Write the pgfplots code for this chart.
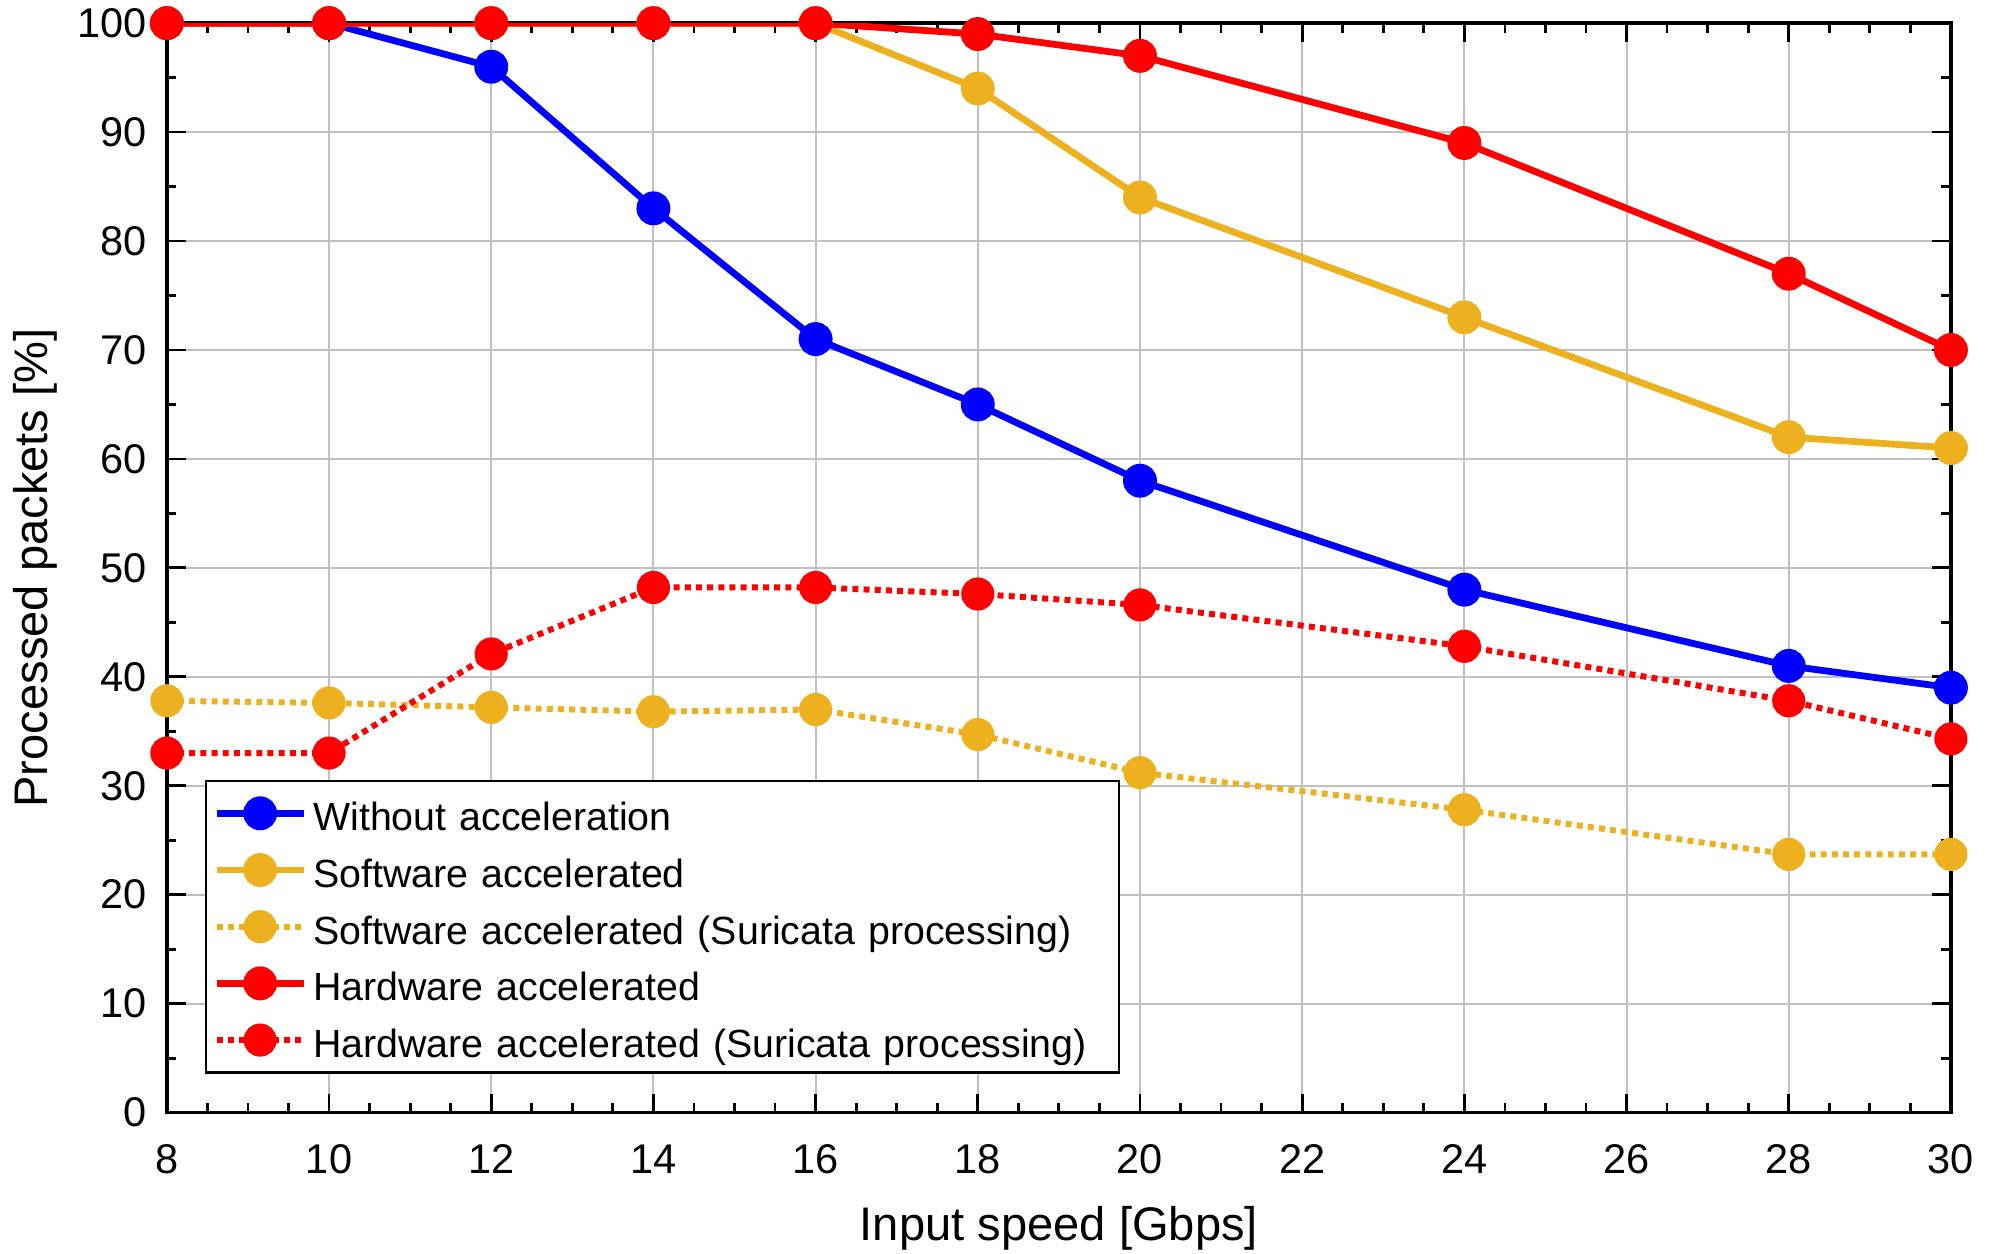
\documentclass[border=0pt]{standalone}
\usepackage{fontspec}
\setmainfont{Liberation Sans}
\usepackage{pgfplots}
\pgfplotsset{compat=1.18}
\definecolor{cblue}{RGB}{0,0,255}
\definecolor{corange}{RGB}{237,177,32}
\definecolor{cred}{RGB}{255,0,0}
\definecolor{cgrid}{RGB}{192,192,192}
\pgfplotsset{
  mylegimg/.style={legend image code/.code={
    \draw[mark repeat=2,mark phase=2] plot coordinates {(0pt,0pt) (10.9pt,0pt) (21.8pt,0pt)};}},
}
\begin{document}
\begin{tikzpicture}
\useasboundingbox (0,0) rectangle (500pt,314pt);
\begin{axis}[
  at={(41.8pt,35.3pt)}, anchor=south west,
  scale only axis, width=446.9pt, height=272.9pt,
  xmin=8, xmax=30, ymin=0, ymax=100,
  xtick={8,10,...,30}, ytick={0,10,...,100},
  minor x tick num=3, minor y tick num=1,
  tick align=inside,
  major tick length=4.7pt, minor tick length=2.4pt,
  tick style={black, line width=0.7pt},
  axis line style={black, line width=0.9pt},
  grid=major, major grid style={cgrid, line width=0.5pt},
  /pgf/number format/assume math mode=true,
  ticklabel style={font=\fontsize{10.4}{12}\selectfont},
  xticklabel style={yshift=-4.5pt},
  yticklabel style={xshift=-1.5pt},
  xlabel={Input speed [Gbps]},
  ylabel={Processed packets [\%]},
  label style={font=\fontsize{11.8}{14}\selectfont},
  xlabel style={at={(axis description cs:0.5,-0.1173)}, anchor=base},
  ylabel style={at={(axis description cs:-0.0667,0.5)}, anchor=base, rotate=0},
  every axis plot/.append style={line width=1.7pt, mark=*, mark size=3.4pt, mark options={solid}},
  legend style={at={(axis description cs:0.0213,0.0358)}, anchor=south west,
    draw=black, line width=0.6pt, font=\fontsize{9.85}{12}\selectfont,
    row sep=0pt, column sep=1.55pt, inner xsep=1.8pt, inner ysep=1pt,
    nodes={inner sep=0pt, text height=11.5pt, text depth=2.7pt, text width=200.1pt},
    cells={anchor=west}},
  legend cell align=left,
  mylegimg,
]
\addplot[cblue] coordinates {(8,100)(10,100)(12,96)(14,83)(16,71)(18,65)(20,58)(24,48)(28,41)(30,39)};
\addlegendentry{Without acceleration}
\addplot[corange] coordinates {(8,100)(10,100)(12,100)(14,100)(16,100)(18,94)(20,84)(24,73)(28,62)(30,61)};
\addlegendentry{Software accelerated}
\addplot[corange, line width=1.5pt, dash pattern=on 1.5pt off 1.3pt] coordinates {(8,37.8)(10,37.6)(12,37.2)(14,36.8)(16,37.0)(18,34.7)(20,31.2)(24,27.8)(28,23.7)(30,23.7)};
\addlegendentry{Software accelerated (Suricata processing)}
\addplot[cred] coordinates {(8,100)(10,100)(12,100)(14,100)(16,100)(18,99)(20,97)(24,89)(28,77)(30,70)};
\addlegendentry{Hardware accelerated}
\addplot[cred, line width=1.5pt, dash pattern=on 1.5pt off 1.3pt] coordinates {(8,33.0)(10,33.0)(12,42.1)(14,48.2)(16,48.2)(18,47.6)(20,46.6)(24,42.8)(28,37.8)(30,34.3)};
\addlegendentry{Hardware accelerated (Suricata processing)}
\end{axis}
\end{tikzpicture}
\end{document}
